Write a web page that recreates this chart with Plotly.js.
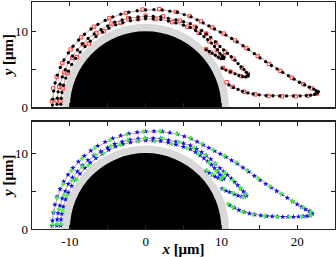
<!DOCTYPE html>
<html><head><meta charset="utf-8">
<script src="https://cdn.plot.ly/plotly-3.0.1.min.js"></script>
<style>html,body{margin:0;padding:0;background:#fff}#chart{width:336px;height:257px}</style>
</head><body><div id="chart"></div>
<script>
// ---- data (µm) ----
const cylinderRadius = 10;
const layerRadius = 11;

// model trajectories (lines), top panel
const topLine1 = [[-12.3,0.4],[-12.16,2.1],[-11.65,4.2],[-10.8,6.2],[-9.6,8.0],[-8.1,9.6],[-6.3,10.9],[-4.3,11.9],[-2.2,12.5],[0,12.8],[2.2,12.8],[4.2,12.5],[6.0,11.9],[7.6,11.1],[9.1,10.3],[10.6,9.5],[12.1,8.6],[13.6,7.6],[15.1,6.5],[16.6,5.5],[18.1,4.6],[19.6,3.7],[21.0,2.95],[22.2,2.4],[22.9,2.05],[22.5,1.7],[21.6,1.55],[20.0,1.5],[18.3,1.5],[16.6,1.55],[15.0,1.65],[13.6,1.9],[12.3,2.3],[11.2,2.8],[10.6,3.2]];
const topLine2 = [[-11.7,0.4],[-11.55,2.04],[-11.0,4.0],[-10.2,5.9],[-9.0,7.55],[-7.6,9.05],[-5.9,10.2],[-4.07,11.2],[-2.07,11.75],[0,11.95],[2.0,11.9],[4.0,11.5],[5.9,11.0],[7.4,10.1],[8.6,9.2],[9.8,8.0],[10.8,7.1],[11.8,6.2],[12.6,5.3],[13.3,4.6],[13.6,4.25],[13.3,4.05],[12.5,4.25],[11.4,4.65],[10.1,5.1]];
const topLine3 = [[-11.2,0.4],[-11.05,1.95],[-10.55,3.85],[-9.75,5.63],[-8.65,7.26],[-7.3,8.7],[-5.7,9.9],[-3.95,10.85],[-2.0,11.4],[0,11.65],[2.0,11.55],[4.0,11.1],[5.9,10.5],[7.2,9.7],[8.2,8.9],[9.1,8.0],[9.8,7.1],[10.35,6.55],[10.1,6.35],[9.6,6.55],[8.8,7.1],[8.0,7.6]];

// model trajectories (lines), bottom panel
const botLine1 = [[-12.3,0.4],[-12.16,2.1],[-11.65,4.2],[-10.8,6.2],[-9.6,8.0],[-8.1,9.6],[-6.3,10.9],[-4.3,11.9],[-2.2,12.5],[0,12.8],[2.2,12.8],[4.2,12.5],[6.0,11.9],[7.6,11.1],[9.1,10.3],[10.6,9.5],[12.1,8.6],[13.6,7.6],[15.1,6.5],[16.6,5.5],[18.0,4.6],[19.4,3.7],[20.6,3.0],[21.6,2.4],[22.2,2.0],[21.9,1.75],[21.0,1.65],[19.6,1.6],[18.0,1.6],[16.5,1.65],[15.0,1.8],[13.6,2.05],[12.4,2.45],[11.4,2.9],[10.8,3.3]];
const botLine2 = [[-11.7,0.4],[-11.55,2.04],[-11.0,4.0],[-10.2,5.9],[-9.0,7.55],[-7.6,9.05],[-5.9,10.2],[-4.07,11.2],[-2.07,11.75],[0,11.95],[2.0,11.9],[4.0,11.5],[5.9,11.0],[7.4,10.1],[8.6,9.2],[9.8,8.0],[10.8,7.1],[11.8,6.2],[12.6,5.3],[13.1,4.7],[13.3,4.4],[13.0,4.2],[12.3,4.35],[11.3,4.75],[10.1,5.2]];
const botLine3 = [[-11.2,0.4],[-11.05,1.95],[-10.55,3.85],[-9.75,5.63],[-8.65,7.26],[-7.3,8.7],[-5.7,9.9],[-3.95,10.85],[-2.0,11.4],[0,11.65],[2.0,11.55],[4.0,11.1],[5.9,10.5],[7.2,9.7],[8.2,8.9],[9.1,8.0],[9.8,7.2],[10.35,6.75],[10.1,6.55],[9.6,6.7],[8.8,7.2],[8.0,7.65]];

// black dots (top panel)
const black1X = [-12.3,-12.27,-12.14,-11.95,-11.65,-11.26,-10.78,-10.21,-9.58,-8.85,-8.07,-7.21,-6.3,-5.33,-4.33,-3.28,-2.21,-1.11,0,1.1,2.2,3.2,4.2,5.1,6.0,6.8,7.6,8.35,9.1,9.85,10.6,11.35,12.1,12.85,13.6,14.35,15.1,15.85,16.6,17.35,18.1,18.85,19.6,20.3,21.0,21.6,22.2,22.5,22.8,22.6,22.3,21.8,21.2,20.4,19.5,18.6,17.7,16.8,15.9,15.0,14.2,13.5,12.8,12.2,11.6,11.0];
const black1Y = [0.3,1.07,2.14,3.2,4.24,5.25,6.23,7.15,8.03,8.85,9.61,10.3,10.91,11.44,11.89,12.25,12.51,12.7,12.8,12.85,12.8,12.65,12.5,12.2,11.9,11.5,11.1,10.7,10.3,9.9,9.5,9.05,8.6,8.1,7.6,7.05,6.5,6.0,5.5,5.05,4.6,4.15,3.7,3.3,2.95,2.65,2.4,2.2,2.05,1.85,1.7,1.6,1.55,1.5,1.5,1.5,1.5,1.52,1.55,1.65,1.75,1.9,2.1,2.35,2.6,2.95];
const black2X = [-11.7,-11.66,-11.55,-11.3,-11.0,-10.6,-10.2,-9.65,-9.0,-8.35,-7.6,-6.8,-5.9,-5.0,-4.07,-3.1,-2.07,-1.0,0,1.0,2.0,3.0,4.0,5.0,5.9,6.7,7.4,8.0,8.6,9.2,9.8,10.3,10.8,11.3,11.8,12.2,12.6,13.0,13.3,13.55,13.5,13.2,12.8,12.3,11.8,11.2,10.6,10.1];
const black2Y = [0.4,1.2,2.04,3.05,4.0,4.95,5.9,6.75,7.55,8.35,9.05,9.65,10.2,10.7,11.2,11.5,11.75,11.9,11.95,11.95,11.9,11.7,11.5,11.25,11.0,10.55,10.1,9.65,9.2,8.6,8.0,7.55,7.1,6.65,6.2,5.75,5.3,4.95,4.6,4.3,4.1,4.0,4.05,4.2,4.4,4.65,4.9,5.15];
const black3X = [-11.2,-11.15,-11.05,-10.85,-10.55,-10.2,-9.75,-9.25,-8.65,-8.0,-7.3,-6.55,-5.7,-4.85,-3.95,-3.0,-2.0,-1.0,0,1.0,2.0,3.0,4.0,5.0,5.9,6.6,7.2,7.7,8.2,8.7,9.1,9.5,9.8,10.1,10.3,10.3,10.0,9.6,9.2,8.8,8.4,8.0];
const black3Y = [0.4,1.2,1.95,2.9,3.85,4.75,5.63,6.45,7.26,8.0,8.7,9.3,9.9,10.4,10.85,11.15,11.4,11.55,11.65,11.62,11.55,11.35,11.1,10.8,10.5,10.1,9.7,9.3,8.9,8.45,8.0,7.55,7.1,6.8,6.6,6.4,6.4,6.6,6.85,7.1,7.35,7.6];

// red open squares (top panel)
const red1 = [[-12.35,0.8],[-12.2,2.5],[-11.75,4.0],[-11.0,5.8],[-9.9,7.6],[-8.5,9.2],[-6.8,10.6],[-4.8,11.7],[-2.6,12.4],[-0.4,12.85],[1.8,12.9],[4.0,12.55],[5.8,12.0],[7.3,11.3],[8.8,10.5],[10.3,9.7],[11.8,8.8],[13.3,7.8],[14.8,6.75],[16.3,5.7],[17.8,4.8],[19.3,3.9],[20.8,3.05],[21.9,2.5],[22.6,1.8],[21.4,1.5],[19.8,1.45],[18.0,1.45],[16.2,1.5],[14.5,1.7],[13.0,2.05],[11.5,2.7],[10.7,3.3]];
const red2 = [[-11.75,0.9],[-11.4,2.7],[-10.75,4.6],[-9.7,6.5],[-8.3,8.3],[-6.5,9.8],[-4.5,11.0],[-2.3,11.7],[0,12.05],[2.3,11.95],[4.5,11.4],[6.5,10.6],[8.0,9.7],[9.3,8.5],[10.5,7.3],[11.6,6.4],[12.7,5.2],[13.5,4.4],[12.6,4.1],[11.2,4.7],[10.2,5.2]];
const red3 = [[-11.25,0.8],[-10.95,2.5],[-10.3,4.5],[-9.1,6.6],[-7.5,8.4],[-5.5,10.0],[-3.3,11.1],[-1.0,11.6],[1.3,11.6],[3.5,11.2],[5.5,10.6],[7.0,9.8],[8.4,8.7],[9.4,7.5],[10.3,6.7],[9.8,6.55],[8.6,7.2],[8.0,7.65]];

// blue stars (bottom panel)
const blue1X = [-12.35,-12.3,-12.18,-11.98,-11.7,-11.3,-10.82,-10.25,-9.6,-8.88,-8.1,-7.24,-6.33,-5.35,-4.35,-3.3,-2.22,-1.12,0,1.1,2.2,3.2,4.2,5.1,6.0,6.8,7.6,8.35,9.1,9.85,10.6,11.35,12.1,12.85,13.6,14.35,15.1,15.85,16.6,17.3,18.0,18.7,19.4,20.0,20.6,21.1,21.6,21.9,22.0,21.7,21.3,20.8,20.2,19.5,18.8,18.1,17.4,16.7,16.0,15.2,14.4,13.7,13.0,12.3,11.7,11.1];
const blue1Y = [0.4,1.1,2.15,3.2,4.25,5.27,6.25,7.17,8.05,8.88,9.64,10.33,10.95,11.48,11.93,12.3,12.56,12.75,12.85,12.9,12.85,12.7,12.5,12.2,11.9,11.5,11.1,10.7,10.3,9.9,9.5,9.05,8.6,8.1,7.55,7.0,6.45,5.95,5.45,5.0,4.55,4.1,3.65,3.25,2.9,2.6,2.35,2.15,2.0,1.8,1.7,1.65,1.62,1.6,1.6,1.6,1.62,1.65,1.7,1.8,1.9,2.05,2.25,2.5,2.8,3.15];
const blue2X = [-11.72,-11.68,-11.57,-11.32,-11.02,-10.62,-10.22,-9.67,-9.02,-8.37,-7.62,-6.82,-5.92,-5.02,-4.08,-3.1,-2.07,-1.0,0,1.0,2.0,3.0,4.0,5.0,5.9,6.7,7.4,8.0,8.6,9.2,9.8,10.3,10.8,11.3,11.75,12.15,12.55,12.9,13.15,13.3,13.1,12.7,12.2,11.7,11.1,10.6,10.1];
const blue2Y = [0.45,1.25,2.08,3.08,4.03,4.98,5.93,6.78,7.58,8.38,9.08,9.68,10.23,10.73,11.22,11.52,11.77,11.92,11.97,11.97,11.92,11.72,11.52,11.27,11.02,10.57,10.12,9.67,9.22,8.62,8.02,7.57,7.12,6.67,6.22,5.78,5.35,4.95,4.65,4.4,4.25,4.25,4.4,4.6,4.85,5.05,5.3];
const blue3X = [-11.22,-11.17,-11.07,-10.87,-10.57,-10.22,-9.77,-9.27,-8.67,-8.02,-7.32,-6.57,-5.72,-4.87,-3.97,-3.0,-2.0,-1.0,0,1.0,2.0,3.0,4.0,5.0,5.9,6.6,7.2,7.7,8.2,8.7,9.1,9.5,9.8,10.1,10.3,10.3,10.0,9.6,9.2,8.8,8.4,8.0];
const blue3Y = [0.45,1.25,2.0,2.95,3.9,4.8,5.68,6.5,7.3,8.04,8.74,9.34,9.94,10.44,10.88,11.18,11.42,11.57,11.67,11.64,11.57,11.37,11.12,10.82,10.52,10.12,9.72,9.32,8.92,8.47,8.02,7.57,7.15,6.9,6.75,6.6,6.55,6.7,6.9,7.15,7.4,7.65];

// green crosses (bottom panel)
const green1 = [[-12.3,0.6],[-12.15,2.3],[-11.7,4.1],[-10.9,5.9],[-9.8,7.7],[-8.4,9.3],[-6.7,10.7],[-4.7,11.75],[-2.5,12.45],[-0.3,12.85],[1.9,12.9],[4.1,12.55],[5.9,12.0],[7.4,11.25],[8.9,10.45],[10.4,9.65],[11.9,8.75],[13.4,7.75],[14.9,6.65],[16.4,5.6],[17.9,4.65],[19.4,3.7],[20.8,2.85],[21.8,2.3],[21.8,1.8],[20.6,1.65],[19.0,1.6],[17.3,1.62],[15.7,1.7],[14.2,1.9],[12.8,2.25],[11.5,2.85],[10.9,3.3]];
const green2 = [[-11.7,0.7],[-11.45,2.6],[-10.8,4.5],[-9.75,6.4],[-8.35,8.2],[-6.6,9.75],[-4.6,10.95],[-2.4,11.7],[-0.1,12.0],[2.2,11.95],[4.4,11.45],[6.4,10.7],[7.9,9.75],[9.2,8.6],[10.4,7.4],[11.5,6.45],[12.5,5.4],[13.2,4.6],[12.9,4.2],[11.5,4.7],[10.3,5.25]];
const green3 = [[-11.2,0.7],[-10.95,2.4],[-10.35,4.4],[-9.15,6.5],[-7.55,8.4],[-5.55,9.95],[-3.35,11.1],[-1.05,11.6],[1.25,11.6],[3.45,11.2],[5.45,10.65],[6.95,9.85],[8.35,8.75],[9.35,7.6],[10.2,6.85],[9.9,6.6],[8.8,7.2],[8.1,7.7]];

const xTickVals = [-15,-10,-5,0,5,10,15,20,25];
const xTickText = ['','-10','','0','','10','','20',''];
const yTickVals = [0,5,10];
const yTickText = ['0','','10'];

// ---- build ----
function joinPaths(paths){
  const x=[], y=[];
  paths.forEach((p,i)=>{ if(i){x.push(null);y.push(null);} p.forEach(q=>{x.push(q[0]);y.push(q[1]);}); });
  return {x,y};
}
function pairs(list){ const a=[].concat(...list); return {x:a.map(p=>p[0]), y:a.map(p=>p[1])}; }

const lineColor = 'rgb(195,140,140)';
const tl = joinPaths([topLine1,topLine2,topLine3]);
const bl = joinPaths([botLine1,botLine2,botLine3]);
const rd = pairs([red1,red2,red3]);
const gr = pairs([green1,green2,green3]);

const traces = [
  {x:tl.x,y:tl.y,xaxis:'x',yaxis:'y',mode:'lines',line:{color:lineColor,width:0.9},hoverinfo:'skip'},
  {x:rd.x,y:rd.y,xaxis:'x',yaxis:'y',mode:'markers',
   marker:{symbol:'square-open',size:3.4,color:'rgb(255,40,40)',line:{width:0.9}}},
  {x:[].concat(black1X,black2X,black3X),y:[].concat(black1Y,black2Y,black3Y),xaxis:'x',yaxis:'y',mode:'markers',
   marker:{symbol:'circle',size:3.3,color:'black'}},
  {x:bl.x,y:bl.y,xaxis:'x2',yaxis:'y2',mode:'lines',line:{color:lineColor,width:0.9},hoverinfo:'skip'},
  {x:[].concat(blue1X,blue2X,blue3X),y:[].concat(blue1Y,blue2Y,blue3Y),xaxis:'x2',yaxis:'y2',mode:'markers',
   marker:{symbol:'star',size:4.2,color:'rgb(10,10,230)'}},
  {x:gr.x,y:gr.y,xaxis:'x2',yaxis:'y2',mode:'markers',
   marker:{symbol:'cross',size:3.8,color:'rgb(80,235,80)'}}
];

function cyl(xref,yref){
  return [
    {type:'circle',xref,yref,x0:-layerRadius,x1:layerRadius,y0:-layerRadius,y1:layerRadius,fillcolor:'rgb(217,217,217)',line:{width:0},layer:'below'},
    {type:'circle',xref,yref,x0:-cylinderRadius,x1:cylinderRadius,y0:-cylinderRadius,y1:cylinderRadius,fillcolor:'black',line:{width:0},layer:'below'}
  ];
}

const axBase = {showline:true,linewidth:1.3,linecolor:'#222',mirror:'ticks',ticks:'inside',ticklen:4,tickwidth:1,tickcolor:'#222',
  showgrid:false,zeroline:false,tickfont:{family:'Liberation Serif',size:13,color:'black'}};
const yTitle = {text:'<b><i>y</i> [μm]</b>',font:{family:'Liberation Serif',size:15,color:'black'},standoff:4};

const layout = {
  width:336,height:257,margin:{l:32,r:1,t:2,b:28},paper_bgcolor:'white',plot_bgcolor:'white',showlegend:false,
  font:{family:'Liberation Serif',size:13,color:'black'},
  xaxis:Object.assign({},axBase,{domain:[0,1],range:[-15,25],anchor:'y',tickmode:'array',tickvals:xTickVals,ticktext:xTickVals.map(()=>'' )}),
  yaxis:Object.assign({},axBase,{domain:[0.536,1],range:[0,13.85],anchor:'x',tickmode:'array',tickvals:yTickVals,ticktext:yTickText,title:yTitle}),
  xaxis2:Object.assign({},axBase,{domain:[0,1],range:[-15,25],anchor:'y2',tickmode:'array',tickvals:xTickVals,ticktext:xTickText,
    title:{text:'<b><i>x</i> [μm]</b>',font:{family:'Liberation Serif',size:15,color:'black'},standoff:2}}),
  yaxis2:Object.assign({},axBase,{domain:[0,0.473],range:[0,14.15],anchor:'x2',tickmode:'array',tickvals:yTickVals,ticktext:yTickText,title:yTitle}),
  shapes:[].concat(cyl('x','y'),cyl('x2','y2'))
};

Plotly.newPlot('chart',traces,layout,{staticPlot:true,displayModeBar:false});
</script></body></html>
